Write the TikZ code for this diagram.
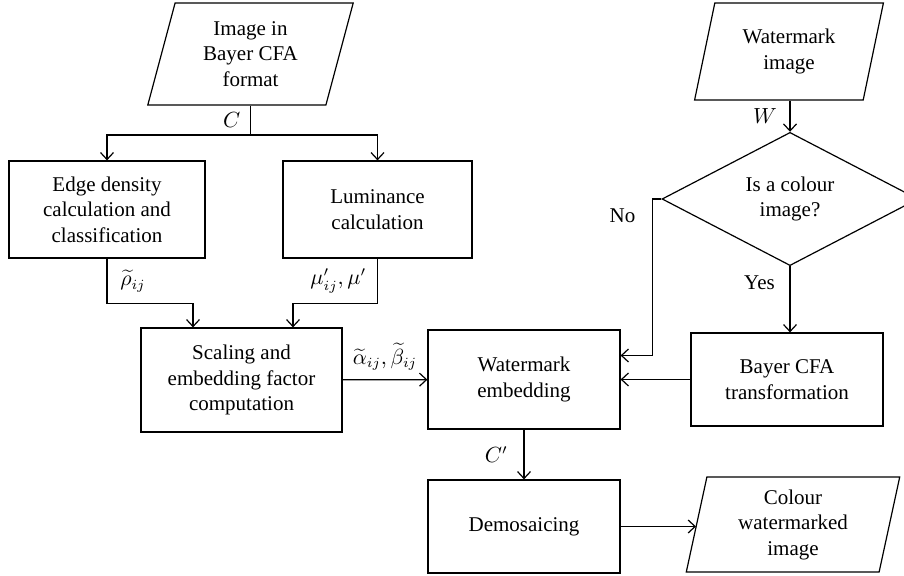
\documentclass[tikz,border=0pt]{standalone}
\usepackage{fontspec}
\setmainfont{Liberation Serif}
\usetikzlibrary{shapes.geometric,arrows.meta}

\begin{document}
\begin{tikzpicture}[x=0.5pt,y=-0.5pt,
  font=\fontsize{10.5}{12.75}\selectfont,
  box/.style={draw, rectangle, align=center, line width=0.6pt},
  io/.style={draw, trapezium, trapezium left angle=76, trapezium right angle=104,
    trapezium stretches=true, align=center, line width=0.6pt},
  decision/.style={draw, diamond, align=center, inner sep=0pt, line width=0.6pt},
  line/.style={line width=0.6pt, ->, >={Straight Barb[length=3.5pt,width=6.5pt]}}]
\clip (0,0) rectangle (904,576);

% inputs
\node[io, minimum width=103.5pt, minimum height=51pt] (img) at (250.5,54) {Image in\\Bayer CFA\\format};
\node[io, minimum width=94.5pt, minimum height=48.5pt] (wm) at (789,51.5) {Watermark\\image};

% left branch
\node[box, minimum width=98pt, minimum height=48.5pt] (edge) at (107,209.5) {Edge density\\calculation and\\classification};
\node[box, minimum width=94.5pt, minimum height=48.5pt] (lum) at (377.5,209.5) {Luminance\\calculation};
\node[box, minimum width=100.5pt, minimum height=52pt] (scal) at (241.5,380) {Scaling and\\embedding factor\\computation};

% middle
\node[box, minimum width=96pt, minimum height=49.5pt] (emb) at (524,379.5) {Watermark\\embedding};
\node[box, minimum width=96pt, minimum height=46.5pt] (demo) at (524,526.5) {Demosaicing};
\node[io, trapezium left angle=80, trapezium right angle=100,
  minimum width=107pt, minimum height=47.5pt] (out) at (793,524.5) {Colour\\watermarked\\image};

% right branch
\node[decision, minimum width=128pt, minimum height=63pt] (dec) at (790,199) {Is a colour\\image?};
\node[box, minimum width=96pt, minimum height=46.5pt] (bayer) at (787,379.5) {Bayer CFA\\transformation};

% connectors
\coordinate (split) at (250.5,135);
\draw[line width=0.6pt] (img.south) -- (split) node[midway,left=1.5pt] (lblC) {$C$};
\draw[line] (split) -| (edge);
\draw[line] (split) -| (lum);
\draw[line] (edge.south) -- ++(0,45) node[midway,right=3pt] (lblrho) {$\widetilde{\rho}_{ij}$}
  -| ([xshift=-24.25pt]scal.north);
\draw[line] (lum.south) -- ++(0,45) node[midway,left=2pt] (lblmu) {$\mu'_{ij},\mu'$}
  -| ([xshift=25.75pt]scal.north);
\draw[line] (scal) -- (emb) node[midway,above=1pt] (lblab) {$\widetilde{\alpha}_{ij},\widetilde{\beta}_{ij}$};
\draw[line] (emb) -- (demo) node[midway,left=4.5pt] (lblCp) {$C'$};
\draw[line] (demo.east) -- (demo.east -| out.west);
\draw[line] (wm.south -| dec.north) -- (dec.north) node[midway,left=3pt] (lblW) {$W$};
\draw[line] (dec.south) -- (dec.south |- bayer.north) node[pos=0.25,left=4pt] (lblyes) {Yes};
\draw[line] (dec.west) -- ++(-9,0) coordinate (nocorner) |- ([yshift=12pt]emb.east);
\node[anchor=east] (lblno) at ([xshift=-5pt,yshift=-8.5pt]nocorner) {No};
\draw[line] (bayer) -- (emb);
\end{tikzpicture}
\end{document}
